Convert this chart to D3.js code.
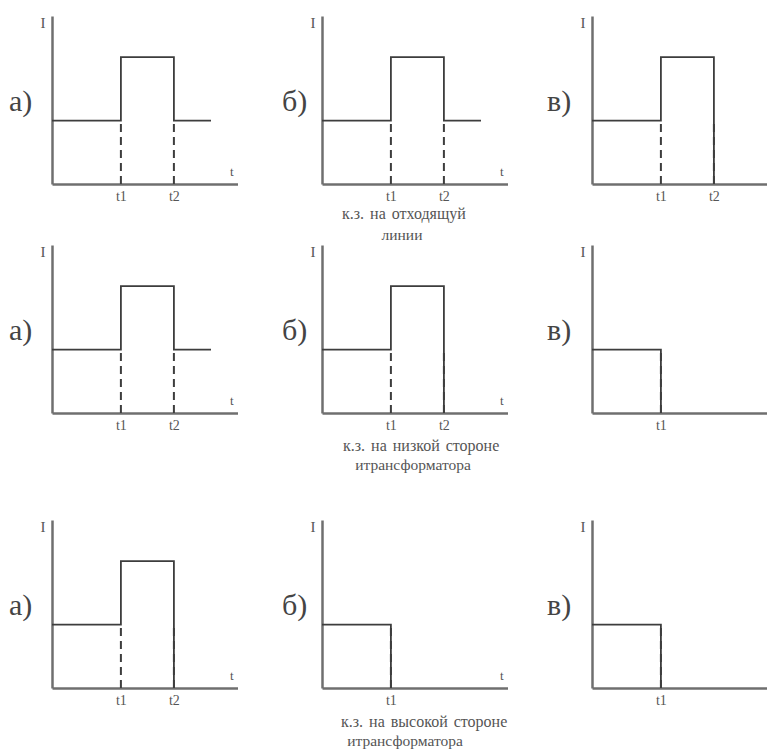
<!DOCTYPE html>
<html><head><meta charset="utf-8">
<script src="https://cdn.jsdelivr.net/npm/d3@7"></script>
<style>body{margin:0;background:#fff}svg{display:block}
svg text{font-family:"Liberation Serif","Times New Roman",Times,"DejaVu Serif",serif !important}</style>
</head><body>
<script>
// ---- data ----
const colLabels = ["а)", "б)", "в)"];
const rowCaptions = [
  ["к.з. на отходящуй", "линии"],
  ["к.з. на низкой стороне", "итрансформатора"],
  ["к.з. на высокой стороне", "итрансформатора"]
];
const tickNames = ["t1", "t2"];
const tickTimes = [1.3, 2.3];
const lowI = 1, highI = 2;
// step paths [t, I] per row/column
const stepA = [[0, 1], [1.3, 1], [1.3, 2], [2.3, 2], [2.3, 1], [3, 1]];
const stepDropT2 = [[0, 1], [1.3, 1], [1.3, 2], [2.3, 2], [2.3, 0]];
const stepDropT1 = [[0, 1], [1.3, 1], [1.3, 0]];
const panelSteps = [
  [stepA, stepA, stepDropT2],
  [stepA, stepDropT2, stepDropT1],
  [stepDropT2, stepDropT1, stepDropT1]
];
const panelDashes = [
  [[1.3, 2.3], [1.3, 2.3], [1.3, 2.3]],
  [[1.3, 2.3], [1.3, 2.3], [1.3]],
  [[1.3, 2.3], [1.3], [1.3]]
];
const panelTickCount = [
  [2, 2, 2],
  [2, 2, 1],
  [2, 1, 1]
];
const showTLabel = [true, true, false];

// ---- layout ----
const W = 767, H = 753;
const colX = [52, 322, 592];
const rowY = [184, 413, 688];
const captionLayout = [
  {x: [342, 402], y: [219, 240]},
  {x: [343, 413], y: [451, 470]},
  {x: [341, 405], y: [727, 746]}
];
const pxPerT = 53, tMax = 3.5;
const axisH = 168, iMax = 2.65;

const svg = d3.select("body").append("svg").attr("width", W).attr("height", H);
svg.append("rect").attr("width", W).attr("height", H).attr("fill", "#fff");

const axisColor = "#6f6f6f", lineColor = "#3d3d3d", textColor = "#555";

rowY.forEach((y0, r) => {
  colX.forEach((x0, c) => {
    const x = d3.scaleLinear().domain([0, tMax]).range([x0, x0 + pxPerT * tMax]);
    const y = d3.scaleLinear().domain([0, iMax]).range([y0, y0 - axisH]);
    const g = svg.append("g");

    // y axis
    const ya = g.append("g").attr("transform", `translate(${x0},0)`)
      .call(d3.axisLeft(y).tickValues([]).tickSizeOuter(0));
    ya.select(".domain").attr("stroke", axisColor).attr("stroke-width", 2.5);

    // x axis
    const n = panelTickCount[r][c];
    const xa = g.append("g").attr("transform", `translate(0,${y0})`)
      .call(d3.axisBottom(x).tickValues(tickTimes.slice(0, n))
        .tickFormat((d, i) => tickNames[i]).tickSize(0).tickSizeOuter(0).tickPadding(7));
    xa.select(".domain").attr("stroke", axisColor).attr("stroke-width", 2.5);
    xa.selectAll("text").attr("font-size", 14).attr("fill", textColor);

    // dashed guides
    panelDashes[r][c].forEach(t => {
      g.append("line")
        .attr("x1", x(t)).attr("x2", x(t)).attr("y1", y(0)).attr("y2", y(lowI))
        .attr("stroke", lineColor).attr("stroke-width", 2).attr("stroke-dasharray", "8,5");
    });

    // step curve
    const line = d3.line().x(d => x(d[0])).y(d => y(d[1]));
    g.append("path").datum(panelSteps[r][c]).attr("d", line)
      .attr("fill", "none").attr("stroke", lineColor).attr("stroke-width", 1.8);

    // labels
    g.append("text").attr("x", x0 - 9).attr("y", y(iMax) + 12)
      .attr("text-anchor", "middle").attr("font-size", 15)
      .attr("fill", textColor).text("I");
    if (showTLabel[c]) {
      g.append("text").attr("x", x0 + 178).attr("y", y0 - 8)
        .attr("font-size", 13).attr("fill", textColor).text("t");
    }
    g.append("text").attr("x", x0 - (c === 2 ? 45 : (c === 0 ? 43 : 40))).attr("y", y0 - 73)
      .attr("font-size", 30).attr("fill", "#444").text(colLabels[c]);
  });
  const cap = captionLayout[r];
  svg.append("text").attr("x", cap.x[0]).attr("y", cap.y[0])
    .attr("font-size", 16).attr("word-spacing", 2).attr("fill", textColor).text(rowCaptions[r][0]);
  svg.append("text").attr("x", cap.x[1]).attr("y", cap.y[1]).attr("text-anchor", "middle")
    .attr("font-size", 15.5).attr("fill", textColor).text(rowCaptions[r][1]);
});
</script>
</body></html>
